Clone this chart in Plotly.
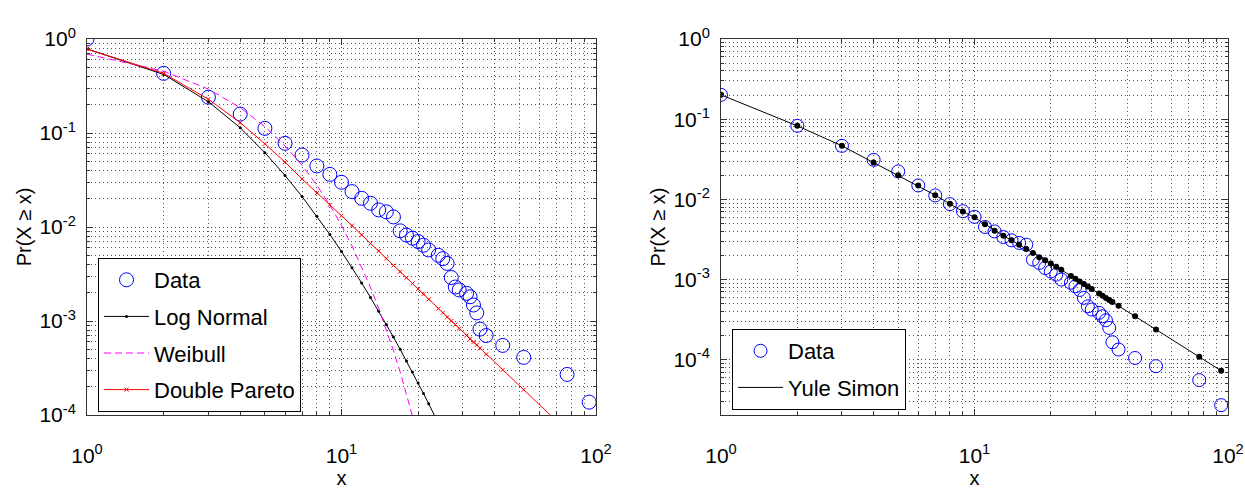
import plotly.graph_objects as go

# ---------------- data ----------------
x_vals = [1, 2, 3, 4, 5, 6, 7, 8, 9, 10, 11, 12, 13, 14, 15, 16, 17, 18, 19, 20, 21, 22,
          24, 25, 26, 27, 28, 29, 31, 32, 33, 34, 35, 37, 43, 52, 77, 94]

left_data = [1.0, 0.431, 0.240, 0.159, 0.112, 0.0777, 0.0583, 0.0446, 0.0363, 0.0299,
             0.0238, 0.0202, 0.0179, 0.0152, 0.0145, 0.0128, 0.0091, 0.0082, 0.0076, 0.0070,
             0.0064, 0.0057, 0.0050, 0.0046, 0.0041, 0.0029, 0.0023, 0.00214,
             0.00197, 0.00181, 0.00148, 0.00122, 0.00082, 0.00070, 0.00055, 0.00041,
             0.00027, 0.000137]

lognormal_x = [1, 2, 3, 4, 5, 6, 7, 8, 9, 10, 11, 12, 13, 14, 15, 16, 17, 18, 19, 20,
               21, 22, 24, 25]
lognormal_p = [0.783, 0.42, 0.215, 0.1136, 0.0617, 0.0353, 0.0211, 0.0130, 0.00834, 0.00548,
               0.00369, 0.00254, 0.00178, 0.00127, 0.000918, 0.000674, 0.000500, 0.000376,
               0.000286, 0.000219, 0.000169, 0.000132, 0.0000822, 0.0000655]

weibull_x = [1, 2, 3, 4, 5, 6, 7, 8, 9, 10, 11, 12, 13, 14, 15, 16, 17, 18, 19, 20]
weibull_p = [0.691, 0.4546, 0.2929, 0.1863, 0.1166, 0.0731, 0.0452, 0.02784, 0.01703,
             0.01037, 0.00629, 0.00379, 0.00228, 0.001365, 0.000815, 0.000484, 0.000287,
             0.000170, 0.0001005, 0.0000591]

pareto_p = [0.783, 0.4315, 0.2286, 0.1288, 0.0767, 0.0490, 0.0324, 0.0229, 0.0172, 0.0132,
            0.01035, 0.00822, 0.00668, 0.00556, 0.00462, 0.00389, 0.00335, 0.00288, 0.00251,
            0.00219, 0.00193, 0.00170, 0.001355, 0.001222, 0.001096, 0.001, 0.000912,
            0.000832, 0.0007, 0.000646, 0.000596, 0.000556, 0.000513, 0.000442, 0.000302,
            0.000186, 0.0000671, 0.0000403]

right_data = [0.201, 0.0826, 0.0465, 0.0311, 0.0223, 0.0149, 0.0112, 0.00871, 0.00711,
              0.00605, 0.00452, 0.00398, 0.00339, 0.00308, 0.00286, 0.00272, 0.00177,
              0.00161, 0.00139, 0.00126, 0.00115, 0.000998, 0.000912, 0.000822, 0.000741,
              0.000590, 0.000463, 0.000422, 0.000384, 0.000348, 0.000310, 0.000249,
              0.000165, 0.000134, 0.000105, 0.0000830, 0.0000556, 0.0000271]

yule_p = [0.201, 0.0826, 0.0465, 0.0288, 0.01995, 0.0149, 0.01127, 0.00879, 0.00705,
          0.00596, 0.0049, 0.00407, 0.00351, 0.00309, 0.00272, 0.0024, 0.00214, 0.0019,
          0.00174, 0.00158, 0.00144, 0.00132, 0.00111, 0.00102, 0.000946, 0.000879,
          0.000817, 0.000762, 0.000667, 0.000627, 0.000589, 0.000555, 0.000524, 0.000469,
          0.000348, 0.000238, 0.0001084, 0.0000728]

x_tickvals = [1, 10, 100]
x_exponents = ["0", "1", "2"]
y_tickvals = [1, 0.1, 0.01, 0.001, 0.0001]
y_exponents = ["0", "-1", "-2", "-3", "-4"]


def power_labels(exps):
    return ["10<sup>" + e + "</sup>" for e in exps]


# ---------------- styling ----------------
FONT = "Liberation Sans, Arial, Helvetica, sans-serif"
FRAME = "#333333"
GRID = "#555555"
DOTS = "1px,3px"

x_minor = [k * 10 ** d for d in (0, 1) for k in range(2, 10)]
y_minor_left = [k * 10.0 ** d for d in range(-4, 0) for k in range(2, 10)]
y_minor_right = [k * 10.0 ** d for d in range(-5, 0) for k in range(2, 10)]


def axis(tickvals, ticktext, minor_vals, rng, title, standoff, labelstandoff, **kw):
    d = dict(
        type="log", range=rng, automargin=False,
        showline=True, linecolor=FRAME, linewidth=1, mirror="allticks",
        ticks="inside", ticklen=6, tickcolor=FRAME, tickwidth=1,
        tickmode="array", tickvals=tickvals, ticktext=ticktext,
        tickfont=dict(family=FONT, size=21, color="black"),
        ticklabelstandoff=labelstandoff,
        showgrid=True, gridcolor=GRID, gridwidth=1, griddash=DOTS,
        zeroline=False,
        minor=dict(tickmode="array", tickvals=minor_vals, ticks="inside", ticklen=3,
                   tickcolor=FRAME, showgrid=True, gridcolor=GRID, gridwidth=1,
                   griddash=DOTS),
        title=dict(text=title, standoff=standoff,
                   font=dict(family=FONT, size=20, color="black")),
    )
    d.update(kw)
    return d


fig = go.Figure()

BLUE = "#0000FF"

# ---- left panel ----
fig.add_trace(go.Scatter(x=x_vals, y=left_data, mode="markers", name="Data",
                         marker=dict(symbol="circle-open", size=14, color=BLUE,
                                     line=dict(width=1, color=BLUE)),
                         xaxis="x", yaxis="y", legend="legend", legendgroup="a"))
fig.add_trace(go.Scatter(x=lognormal_x, y=lognormal_p, mode="lines+markers", name="Log Normal",
                         line=dict(color="black", width=1),
                         marker=dict(symbol="circle", size=3, color="black"),
                         xaxis="x", yaxis="y", legend="legend", legendgroup="b"))
fig.add_trace(go.Scatter(x=weibull_x, y=weibull_p, mode="lines", name="Weibull",
                         line=dict(color="#FF00FF", width=1, dash="7px,4px"),
                         xaxis="x", yaxis="y", legend="legend", legendgroup="c"))
fig.add_trace(go.Scatter(x=x_vals, y=pareto_p, mode="lines+markers", name="Double Pareto",
                         line=dict(color="#FF0000", width=1),
                         marker=dict(symbol="x-thin", size=4,
                                     line=dict(width=1, color="#FF0000"), color="#FF0000"),
                         xaxis="x", yaxis="y", legend="legend", legendgroup="d"))

# ---- right panel ----
fig.add_trace(go.Scatter(x=x_vals, y=right_data, mode="markers", name="Data",
                         marker=dict(symbol="circle-open", size=13, color=BLUE,
                                     line=dict(width=1, color=BLUE)),
                         xaxis="x2", yaxis="y2", legend="legend2", legendgroup="e"))
fig.add_trace(go.Scatter(x=x_vals, y=yule_p, mode="lines", name="Yule Simon",
                         line=dict(color="black", width=1),
                         xaxis="x2", yaxis="y2", legend="legend2", legendgroup="f"))
fig.add_trace(go.Scatter(x=x_vals, y=yule_p, mode="markers", name="Yule Simon points",
                         marker=dict(symbol="circle", size=6, color="black"),
                         showlegend=False, xaxis="x2", yaxis="y2"))

W, H = 1245, 492
L, R, T, B = 87, 17, 39, 77
pw = W - L - R
ph = H - T - B
d1 = (596 - L) / pw
d2 = (721 - L) / pw

legend_common = dict(bgcolor="white", bordercolor="black", borderwidth=1,
                     font=dict(family=FONT, size=22, color="black"),
                     traceorder="grouped", tracegroupgap=5, itemwidth=45,
                     xanchor="left", yanchor="top")

fig.update_layout(
    width=W, height=H,
    margin=dict(l=L, r=R, t=T, b=B),
    paper_bgcolor="white", plot_bgcolor="white",
    font=dict(family=FONT, color="black"),
    xaxis=axis(x_tickvals, power_labels(x_exponents), x_minor, [0, 2], "x", 4, 22,
               domain=[0, d1], anchor="y"),
    yaxis=axis(y_tickvals, power_labels(y_exponents), y_minor_left, [-4, 0],
               "Pr(X \u2265 x)", 2, 6, domain=[0, 1], anchor="x"),
    xaxis2=axis(x_tickvals, power_labels(x_exponents), x_minor, [0, 2], "x", 4, 22,
                domain=[d2, 1], anchor="y2"),
    yaxis2=axis(y_tickvals, power_labels(y_exponents), y_minor_right, [-4.69, 0],
                "Pr(X \u2265 x)", 2, 6, domain=[0, 1], anchor="x2"),
    legend=dict(x=(98 - L) / pw, y=(415 - 258) / ph, **legend_common),
    legend2=dict(x=(732 - L) / pw, y=(415 - 329) / ph, **legend_common),
    showlegend=True,
)

fig.write_html("out.html")
